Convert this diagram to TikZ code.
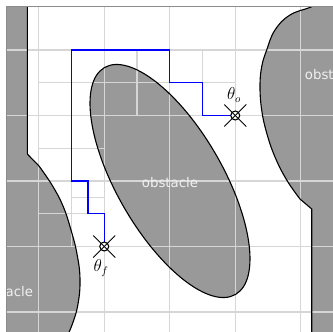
\documentclass[tikz,border=0pt]{standalone}
\usepackage{fontspec}
\newfontfamily\labelfont{DejaVu Sans}
\begin{document}
\begin{tikzpicture}[x=1pt,y=-1pt,
  obstfill/.style={fill=black!40},
  obstline/.style={draw=black,line width=1.1pt},
  gridline/.style={draw=black!16,line width=1.3pt},
  frameline/.style={draw=black!45,line width=1.8pt},
  pathline/.style={draw=blue,line width=1.4pt},
  obstlabel/.style={text=black!6,font=\labelfont\fontsize{13.3}{16}\selectfont,inner sep=0pt},
  poselabel/.style={font=\fontsize{16}{19}\selectfont,inner sep=0pt},
  posemark/.style={circle,draw=black,fill=white,line width=1.1pt,inner sep=0pt,minimum size=9pt},
  crossline/.style={draw=black,line width=0.9pt}]
\useasboundingbox (0,0) rectangle (333,332);

% obstacle outlines, filled first and stroked after the grid
\def\leftobstpath{(-20,-20) -- (27.3,-20) -- (27.3,154)
  -- plot[smooth,tension=0.7] coordinates {(39,166) (52,185) (63,206) (71,230) (77,254) (80,279) (78,304) (72,325) (63,345)}
  -- (-20,345) -- cycle}
\def\rightobstpath{plot[smooth,tension=0.7] coordinates {(335,-4) (311.7,6.7) (290,15) (275,30) (266.7,50) (261.7,66.7) (260,86.7) (261.7,110) (266.7,133) (275,157) (286.7,180) (300,199)}
  -- (311.7,209) -- (311.7,345) -- (345,345) -- (345,-4) -- cycle}
\def\midobstpath{(170,181) ellipse [x radius=131pt, y radius=53pt, rotate=-60]}

\begin{scope}
  \clip (6.5,6.5) rectangle (333,332);
  \fill[obstfill] \leftobstpath;
  \fill[obstfill] \rightobstpath;
  \fill[obstfill] \midobstpath;

  % quadtree cell boundaries
  \foreach \gx in {38.75,104.25,169.75,235.25,300.75}
    \draw[gridline] (\gx,0) -- (\gx,340);
  \foreach \gy in {50,115.5,181,246.5,312}
    \draw[gridline] (0,\gy) -- (340,\gy);
  \draw[gridline] (71.5,50) -- (71.5,246.5);
  \draw[gridline] (137,50) -- (137,115.5);
  \draw[gridline] (202.5,50) -- (202.5,115.5);
  \draw[gridline] (38.75,82.75) -- (235.25,82.75);
  \draw[gridline] (38.75,148.25) -- (104.25,148.25);
  \draw[gridline] (38.75,213.75) -- (104.25,213.75);
  \draw[gridline] (71.5,197.4) -- (104.25,197.4);
  \draw[gridline] (87.9,181) -- (87.9,213.75);

  \draw[obstline] \leftobstpath;
  \draw[obstline] \rightobstpath;
  \draw[obstline] \midobstpath;

  \node[obstlabel] (midlab) at (170,183) {obstacle};
  \node[obstlabel] (rightlab) at (333,75) {obstacle};
  \node[obstlabel] (leftlab) at (5,292) {obstacle};
\end{scope}

% start and goal configurations
\coordinate (thf) at (104.25,246.5);
\coordinate (tho) at (235.25,115.5);

\draw[pathline] (thf) -- (104.25,213.75) -- (87.9,213.75) -- (87.9,181)
  -- (71.5,181) -- (71.5,50) -- (169.75,50) -- (169.75,82.75)
  -- (202.5,82.75) -- (202.5,115.5) -- (tho);

\node[posemark] (thfmark) at (thf) {};
\node[posemark] (thomark) at (tho) {};
\draw[crossline] (thf) +(-11,-11) -- +(11,11);
\draw[crossline] (thf) +(-11,11) -- +(11,-11);
\draw[crossline] (tho) +(-11,-11) -- +(11,11);
\draw[crossline] (tho) +(-11,11) -- +(11,-11);

\node[poselabel] (tholab) at (234,95) {$\theta_o$};
\node[poselabel] (thflab) at (101,268) {$\theta_f$};

% frame edges
\draw[frameline] (6.5,340) -- (6.5,6.5) -- (340,6.5);
\end{tikzpicture}
\end{document}
